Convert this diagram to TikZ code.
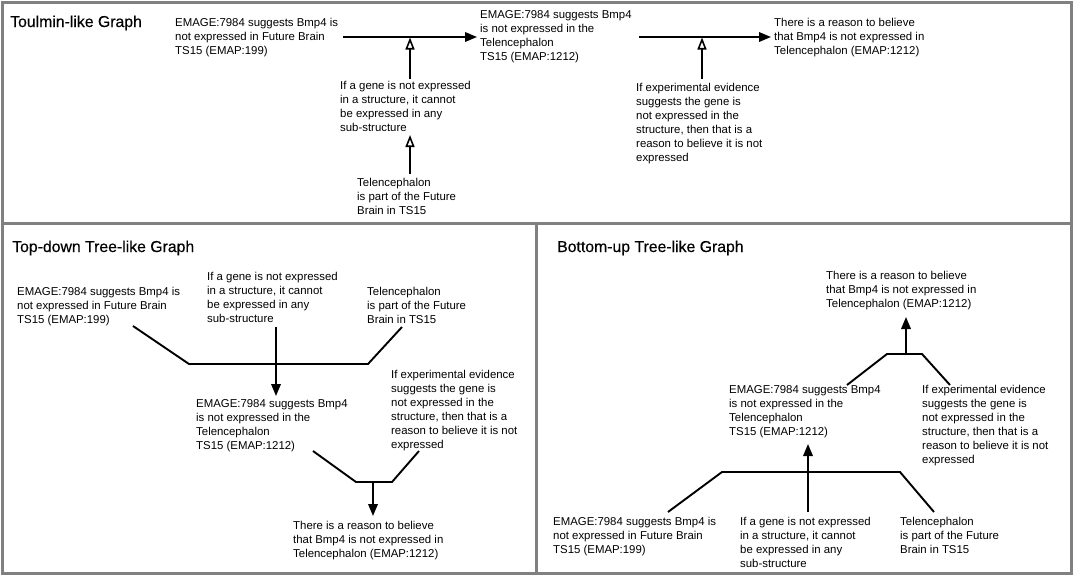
\documentclass[tikz,border=0pt]{standalone}
\usepackage{fontspec}
\setmainfont{Liberation Sans}
\newfontfamily\titlefont[FakeBold=0.35]{Liberation Sans}
\usetikzlibrary{arrows.meta}
\tikzset{
  txt/.style={anchor=north west, inner sep=0pt, align=left, font=\fontsize{11.4}{14}\selectfont},
  ttl/.style={anchor=base west, inner sep=0pt, font=\titlefont\fontsize{15.8}{18}\selectfont},
  panel/.style={draw=black!50, line width=3pt},
  link/.style={line width=1.9pt, line join=miter},
  fillarrow/.style={link, -{Triangle[length=12pt,width=9.5pt]}},
  openarrow/.style={link, -{Triangle[open,length=12pt,width=9pt,line width=1.6pt]}},
}
\begin{document}
\begin{tikzpicture}[x=1pt,y=-1pt]
\useasboundingbox (0,0) rectangle (1074,576);
\fill[white] (0,0) rectangle (1074,576);
% panels
\draw[panel] (2.5,2.5) rectangle (1071,223);
\draw[panel] (2.5,223) rectangle (536,573);
\draw[panel] (536,223) rectangle (1071,573);

% ---------------- Toulmin-like graph ----------------
\node[ttl] (t1) at (10,27) {Toulmin-like Graph};
\node[txt] (ta1) at (175,18.5) {EMAGE:7984 suggests Bmp4 is\\not expressed in Future Brain\\TS15 (EMAP:199)};
\node[txt] (tw1) at (340,81.5) {If a gene is not expressed\\in a structure, it cannot\\be expressed in any\\sub-structure};
\node[txt] (ttel) at (357,178.5) {Telencephalon\\is part of the Future\\Brain in TS15};
\node[txt] (tc1) at (480,10.5) {EMAGE:7984 suggests Bmp4\\is not expressed in the\\Telencephalon\\TS15 (EMAP:1212)};
\node[txt] (tw2) at (636,83.5) {If experimental evidence\\suggests the gene is\\not expressed in the\\structure, then that is a\\reason to believe it is not\\expressed};
\node[txt] (tc2) at (774,18.5) {There is a reason to believe\\that Bmp4 is not expressed in\\Telencephalon (EMAP:1212)};

\coordinate (ta1e) at (343,37);
\coordinate (tc1w) at (477,37);
\coordinate (tj1) at (410,37.5);
\coordinate (tw1n) at (410,79);
\coordinate (tw1s) at (410,135);
\coordinate (ttn) at (410,174);
\coordinate (tc1e) at (639,37);
\coordinate (tc2w) at (771,37);
\coordinate (tj2) at (702,37.5);
\coordinate (tw2n) at (702,79);

\draw[fillarrow] (ta1e) -- (tc1w);
\draw[openarrow] (tw1n) -- (tj1);
\draw[openarrow] (ttn) -- (tw1s);
\draw[fillarrow] (tc1e) -- (tc2w);
\draw[openarrow] (tw2n) -- (tj2);

% ---------------- Top-down tree-like graph ----------------
\node[ttl] (t2) at (12,252) {Top-down Tree-like Graph};
\node[txt] (da1) at (17,287.5) {EMAGE:7984 suggests Bmp4 is\\not expressed in Future Brain\\TS15 (EMAP:199)};
\node[txt] (dw1) at (207,272.5) {If a gene is not expressed\\in a structure, it cannot\\be expressed in any\\sub-structure};
\node[txt] (dtel) at (367,287.5) {Telencephalon\\is part of the Future\\Brain in TS15};
\node[txt] (dc1) at (196,399.5) {EMAGE:7984 suggests Bmp4\\is not expressed in the\\Telencephalon\\TS15 (EMAP:1212)};
\node[txt] (dw2) at (391,370.5) {If experimental evidence\\suggests the gene is\\not expressed in the\\structure, then that is a\\reason to believe it is not\\expressed};
\node[txt] (dc2) at (293,521.5) {There is a reason to believe\\that Bmp4 is not expressed in\\Telencephalon (EMAP:1212)};

\coordinate (da1s) at (133,326);
\coordinate (dj1l) at (189,364);
\coordinate (dj1r) at (368,364);
\coordinate (dtels) at (402,327);
\coordinate (dw1s) at (276,327);
\coordinate (dc1n) at (276,396);
\draw[link] (da1s) -- (dj1l) -- (dj1r) -- (dtels);
\draw[fillarrow] (dw1s) -- (dc1n);

\coordinate (dc1s) at (313,451);
\coordinate (dj2l) at (356,482);
\coordinate (dj2r) at (392,482);
\coordinate (dw2s) at (419,451);
\coordinate (dj2) at (373,482);
\coordinate (dc2n) at (373,516);
\draw[link] (dc1s) -- (dj2l) -- (dj2r) -- (dw2s);
\draw[fillarrow] (dj2) -- (dc2n);

% ---------------- Bottom-up tree-like graph ----------------
\node[ttl] (t3) at (557,252) {Bottom-up Tree-like Graph};
\node[txt] (uc2) at (826,271.5) {There is a reason to believe\\that Bmp4 is not expressed in\\Telencephalon (EMAP:1212)};
\node[txt] (uc1) at (729,385.5) {EMAGE:7984 suggests Bmp4\\is not expressed in the\\Telencephalon\\TS15 (EMAP:1212)};
\node[txt] (uw2) at (922,385.5) {If experimental evidence\\suggests the gene is\\not expressed in the\\structure, then that is a\\reason to believe it is not\\expressed};
\node[txt] (ua1) at (553,517.5) {EMAGE:7984 suggests Bmp4 is\\not expressed in Future Brain\\TS15 (EMAP:199)};
\node[txt] (uw1) at (740,517.5) {If a gene is not expressed\\in a structure, it cannot\\be expressed in any\\sub-structure};
\node[txt] (utel) at (900,517.5) {Telencephalon\\is part of the Future\\Brain in TS15};

\coordinate (uc1n) at (847,385);
\coordinate (uj2l) at (887,354);
\coordinate (uj2r) at (922,354);
\coordinate (uw2n) at (950,385);
\coordinate (uj2) at (906,354);
\coordinate (uc2s) at (906,317);
\draw[link] (uc1n) -- (uj2l) -- (uj2r) -- (uw2n);
\draw[fillarrow] (uj2) -- (uc2s);

\coordinate (ua1n) at (668,512);
\coordinate (uj1l) at (722,472);
\coordinate (uj1r) at (900,472);
\coordinate (uteln) at (934,512);
\coordinate (uw1n) at (808,512);
\coordinate (uc1s) at (808,444);
\draw[link] (ua1n) -- (uj1l) -- (uj1r) -- (uteln);
\draw[fillarrow] (uw1n) -- (uc1s);
\end{tikzpicture}
\end{document}
